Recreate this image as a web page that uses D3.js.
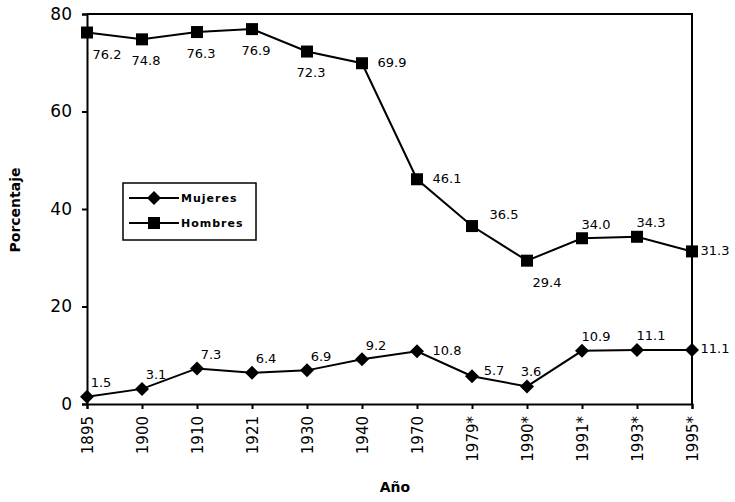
<!DOCTYPE html>
<html>
<head>
<meta charset="utf-8">
<script src="https://cdn.jsdelivr.net/npm/d3@7"></script>
<style>
  body { margin: 0; background: #fff; }
  svg text { font-family: "DejaVu Sans", sans-serif; fill: #000; }
</style>
</head>
<body>
<script>
//categories on the x axis
var years = ["1895", "1900", "1910", "1921", "1930", "1940", "1970", "1979*", "1990*", "1991*", "1993*", "1995*"];

//series values (percent)
var mujeres = [1.5, 3.1, 7.3, 6.4, 6.9, 9.2, 10.8, 5.7, 3.6, 10.9, 11.1, 11.1];
var hombres = [76.2, 74.8, 76.3, 76.9, 72.3, 69.9, 46.1, 36.5, 29.4, 34.0, 34.3, 31.3];

//y tick values
var yTicks = [0, 20, 40, 60, 80];

//where each value label sits relative to its point
var mujeresLabelPos = ["ar", "ar", "ar", "ar", "ar", "ar", "r", "rr", "a", "ar", "ar", "re"];
var hombresLabelPos = ["br", "b", "b", "b", "b", "r", "r", "ru", "br", "ar", "ar", "re"];

(function(){

    var width = 735, height = 502;
    var left = 87, right = 692, top = 14, bottom = 404;

    //label offsets for each keyword
    var offsets = {
        b:  [4, 21],
        br: [20, 22],
        r:  [30, -1],
        re: [23, -1],
        ar: [14, -14],
        a:  [4, -15],
        rr: [22, -6],
        ru: [32, -12]
    };

    var svg = d3.select("body")
        .append("svg")
        .attr("width", width)
        .attr("height", height);

    var x = d3.scalePoint()
        .domain(years)
        .range([left, right]);

    var y = d3.scaleLinear()
        .domain([0, 80])
        .range([bottom, top]);

    //frame: top and right borders
    svg.append("path")
        .attr("d", "M" + left + "," + top + "H" + right + "V" + bottom)
        .attr("fill", "none")
        .attr("stroke", "#000")
        .attr("stroke-width", 2);

    //y axis
    var yAxis = svg.append("g")
        .attr("transform", "translate(" + left + ",0)")
        .call(d3.axisLeft(y).tickValues(yTicks).tickSize(5).tickPadding(10));
    yAxis.selectAll("path, line").attr("stroke", "#000").attr("stroke-width", 2);
    yAxis.selectAll("text")
        .style("font-size", "17px")
        .style("font-family", "DejaVu Sans, sans-serif");

    //x axis with rotated labels
    var xAxis = svg.append("g")
        .attr("transform", "translate(0," + bottom + ")")
        .call(d3.axisBottom(x).tickSize(5).tickPadding(6));
    xAxis.selectAll("path, line").attr("stroke", "#000").attr("stroke-width", 2);
    xAxis.selectAll("text")
        .style("font-size", "15px")
        .style("font-family", "DejaVu Sans, sans-serif")
        .attr("text-anchor", "end")
        .attr("transform", "rotate(-90)")
        .attr("x", -12)
        .attr("y", 0)
        .attr("dy", "0.35em");

    //axis titles
    svg.append("text")
        .attr("transform", "translate(20,210) rotate(-90)")
        .attr("text-anchor", "middle")
        .style("font-size", "14px")
        .style("font-weight", "bold")
        .text("Porcentaje");

    svg.append("text")
        .attr("x", 395)
        .attr("y", 492)
        .attr("text-anchor", "middle")
        .style("font-size", "14px")
        .style("font-weight", "bold")
        .text("Año");

    var line = d3.line()
        .x(function(d, i){ return x(years[i]); })
        .y(function(d){ return y(d); });

    var diamond = d3.symbol().type(d3.symbolDiamond2).size(125);

    function drawSeries(values, labelPos, marker){
        svg.append("path")
            .datum(values)
            .attr("d", line)
            .attr("fill", "none")
            .attr("stroke", "#000")
            .attr("stroke-width", 2);

        var g = svg.append("g");
        values.forEach(function(v, i){
            var cx = x(years[i]), cy = y(v);
            if (marker == "square"){
                g.append("rect")
                    .attr("x", cx - 6).attr("y", cy - 6)
                    .attr("width", 12).attr("height", 12)
                    .attr("fill", "#000");
            } else {
                g.append("path")
                    .attr("d", diamond())
                    .attr("transform", "translate(" + cx + "," + cy + ")")
                    .attr("fill", "#000");
            }
            var off = offsets[labelPos[i]];
            g.append("text")
                .attr("x", cx + off[0])
                .attr("y", cy + off[1])
                .attr("dy", "0.35em")
                .attr("text-anchor", "middle")
                .style("font-size", "13px")
                .text(v.toFixed(1));
        });
    }

    drawSeries(hombres, hombresLabelPos, "square");
    drawSeries(mujeres, mujeresLabelPos, "diamond");

    //legend
    var legend = svg.append("g").attr("transform", "translate(123,183)");
    legend.append("rect")
        .attr("width", 133).attr("height", 57)
        .attr("fill", "#fff")
        .attr("stroke", "#000")
        .attr("stroke-width", 1.5);

    [["Mujeres", "diamond", 15], ["Hombres", "square", 40]].forEach(function(item){
        var ly = item[2];
        legend.append("line")
            .attr("x1", 6).attr("x2", 56)
            .attr("y1", ly).attr("y2", ly)
            .attr("stroke", "#000").attr("stroke-width", 2);
        if (item[1] == "square"){
            legend.append("rect")
                .attr("x", 25).attr("y", ly - 6)
                .attr("width", 12).attr("height", 12)
                .attr("fill", "#000");
        } else {
            legend.append("path")
                .attr("d", diamond())
                .attr("transform", "translate(31," + ly + ")")
                .attr("fill", "#000");
        }
        legend.append("text")
            .attr("x", 58)
            .attr("y", ly)
            .attr("dy", "0.35em")
            .style("font-size", "11px")
            .style("font-weight", "bold")
            .style("letter-spacing", "1px")
            .text(item[0]);
    });

})();
</script>
</body>
</html>
